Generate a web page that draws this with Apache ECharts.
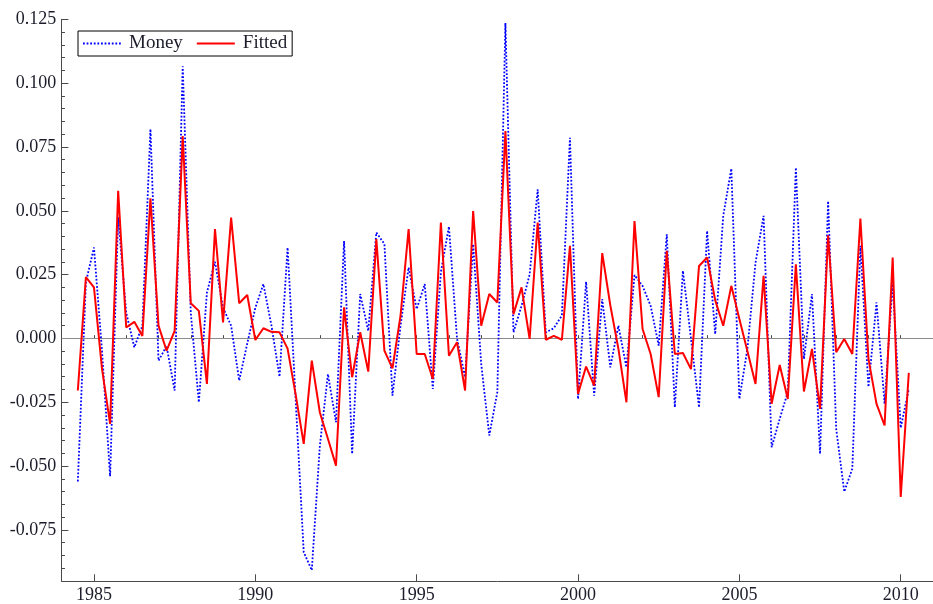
<!DOCTYPE html>
<html>
<head>
<meta charset="utf-8">
<script src="https://cdn.jsdelivr.net/npm/echarts@6/dist/echarts.min.js"></script>
<style>
html,body{margin:0;padding:0;background:#fff;}
#chart{width:933px;height:604px;}
</style>
</head>
<body>
<div id="chart"></div>
<script>
// Quarterly observations, first quarter 1984.5, step 0.25 year
var startYear = 1984.5;
var money = [
 -0.056, 0.022, 0.0356, -0.005, -0.054, 0.0475, 0.010, -0.0035, 0.005, 0.082,
 -0.0087, -0.003, -0.0204, 0.1066, 0.010, -0.025, 0.018, 0.030, 0.012, 0.005,
 -0.0165, -0.002, 0.012, 0.0213, 0.005, -0.015, 0.0356, -0.024, -0.0837, -0.0908,
 -0.042, -0.014, -0.0328, 0.0382, -0.0452, 0.0174, 0.003, 0.0415, 0.037, -0.0224,
 0.005, 0.0278, 0.0115, 0.0213, -0.0198, 0.026, 0.0438, 0.0, -0.0152, 0.0369,
 -0.010, -0.038, -0.021, 0.1236, 0.0024, 0.0128, 0.025, 0.0584, 0.0024, 0.004,
 0.009, 0.0786, -0.0237, 0.0222, -0.0224, 0.0154, -0.0113, 0.005, -0.0113, 0.0248,
 0.0206, 0.0128, -0.0028, 0.0408, -0.027, 0.0265, 0.0, -0.027, 0.0421, 0.0017,
 0.048, 0.0665, -0.0237, -0.004, 0.0297, 0.048, -0.0426, -0.0315, -0.021, 0.0669,
 -0.008, 0.0174, -0.0452, 0.0538, -0.0354, -0.060, -0.051, 0.0363, -0.019, 0.0141,
 -0.0256, 0.022, -0.035, -0.0198
];
var fitted = [
 -0.0204, 0.024, 0.020, -0.012, -0.0335, 0.0578, 0.0043, 0.0065, 0.001, 0.0549,
 0.005, -0.0048, 0.003, 0.0793, 0.0138, 0.0108, -0.0178, 0.0428, 0.0063, 0.0473,
 0.0138, 0.017, -0.0006, 0.004, 0.0026, 0.0024, -0.004, -0.022, -0.0413, -0.0087,
 -0.029, -0.0393, -0.0498, 0.0122, -0.0152, 0.0024, -0.013, 0.0389, -0.0048, -0.0117,
 0.0089, 0.0428, -0.0061, -0.0061, -0.0159, 0.0454, -0.0068, -0.0015, -0.0204, 0.0499,
 0.005, 0.0174, 0.0141, 0.0812, 0.0095, 0.020, -0.0002, 0.0454, -0.0005, 0.001,
 -0.0005, 0.0363, -0.0217, -0.011, -0.0185, 0.0334, 0.013, -0.004, -0.025, 0.046,
 0.0037, -0.0061, -0.023, 0.0343, -0.0061, -0.0057, -0.012, 0.0284, 0.0317, 0.015,
 0.005, 0.0206, 0.0076, -0.005, -0.0178, 0.0245, -0.0256, -0.0104, -0.0237, 0.029,
 -0.0208, -0.0041, -0.0276, 0.0404, -0.0054, -0.0002, -0.0061, 0.047, -0.008, -0.0256,
 -0.0341, 0.0317, -0.0621, -0.0135
];
var xMajorTicks = [1985, 1990, 1995, 2000, 2005, 2010];
var xMinorTicks = [1984,1985,1986,1987,1988,1989,1990,1991,1992,1993,1994,1995,1996,1997,1998,1999,2000,2001,2002,2003,2004,2005,2006,2007,2008,2009,2010];
var yMajorTicks = [-0.075, -0.05, -0.025, 0, 0.025, 0.05, 0.075, 0.1, 0.125];

var yMinorTicks = [];
for (var k = -19; k <= 25; k++) yMinorTicks.push(k * 0.005);

function pairs(vals) {
  return vals.map(function (v, i) { return [startYear + i * 0.25, v]; });
}

var FONT = 'Liberation Serif';
var TXT = '#1c1c2a';
var AX = '#4a4a4a';

var chart = echarts.init(document.getElementById('chart'), null, {renderer: 'canvas'});
chart.setOption({
  animation: false,
  backgroundColor: '#ffffff',
  grid: {left: 61.7, top: 19.3, width: 876.5, height: 563.4, containLabel: false},
  legend: {
    left: 78, top: 31,
    data: ['Money', 'Fitted'],
    itemWidth: 38, itemHeight: 12, itemGap: 13,
    padding: [3, 5, 3, 4],
    borderColor: '#000', borderWidth: 1,
    itemStyle: {opacity: 0, borderWidth: 0},
    textStyle: {fontFamily: FONT, fontSize: 19, color: TXT, padding: [0, 0, 0, 3]}
  },
  xAxis: [{
    type: 'value', min: 1984, max: 2011,
    axisLine: {show: true, onZero: false, lineStyle: {color: AX, width: 1}},
    axisTick: {show: true, inside: true, length: 6.7, customValues: xMajorTicks, lineStyle: {color: AX}},
    axisLabel: {customValues: xMajorTicks, fontFamily: FONT, fontSize: 18, color: TXT, margin: 5,
      formatter: function (v) { return String(v); }},
    splitLine: {show: false}
  }, {
    type: 'value', min: 1984, max: 2011, position: 'bottom',
    axisLine: {show: false},
    axisTick: {show: true, inside: true, length: 3.3, customValues: xMinorTicks, lineStyle: {color: AX}},
    axisLabel: {show: false},
    splitLine: {show: false}
  }],
  yAxis: [{
    type: 'value', min: -0.095, max: 0.125,
    axisLine: {show: true, onZero: false, lineStyle: {color: AX, width: 1}},
    axisTick: {show: true, inside: true, length: 6.7, customValues: yMajorTicks, lineStyle: {color: AX}},
    axisLabel: {customValues: yMajorTicks, fontFamily: FONT, fontSize: 18, color: TXT, margin: 5.5,
      formatter: function (v) { return v.toFixed(3); }},
    splitLine: {show: false}
  }, {
    type: 'value', min: -0.095, max: 0.125, position: 'left',
    axisLine: {show: false},
    axisTick: {show: true, inside: true, length: 3.3, customValues: yMinorTicks, lineStyle: {color: AX}},
    axisLabel: {show: false},
    splitLine: {show: false}
  }],
  series: [{
    name: 'Money', type: 'line', xAxisIndex: 0, yAxisIndex: 0,
    data: pairs(money), symbol: 'none', showSymbol: false,
    lineStyle: {color: '#0000ff', width: 1.8, type: [1.8, 1.8]},
    itemStyle: {color: '#0000ff'},
    z: 3,
    markLine: {
      silent: true, symbol: 'none', label: {show: false},
      lineStyle: {color: '#8c8c8c', width: 1, type: 'solid'},
      data: [{yAxis: 0}], z: 1
    }
  }, {
    name: 'Fitted', type: 'line', xAxisIndex: 0, yAxisIndex: 0,
    data: pairs(fitted), symbol: 'none', showSymbol: false,
    lineStyle: {color: '#ff0000', width: 2},
    itemStyle: {color: '#ff0000'},
    z: 4
  }]
});
</script>
</body>
</html>
